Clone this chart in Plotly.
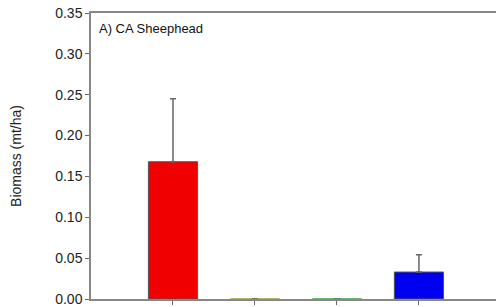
import plotly.graph_objects as go

categories = ["C1", "C2", "C3", "C4"]
biomass = [0.168, 0.0, 0.0, 0.033]
errors = [0.077, 0.0, 0.0, 0.021]
bar_colors = ["#f00000", "#a0a000", "#008000", "#0000f0"]
edge_colors = ["#555555", "#a09a40", "#40a040", "#555555"]
y_ticks = [0.00, 0.05, 0.10, 0.15, 0.20, 0.25, 0.30, 0.35]
y_tick_labels = ["0.00", "0.05", "0.10", "0.15", "0.20", "0.25", "0.30", "0.35"]

fig = go.Figure()
fig.add_trace(go.Bar(
    x=list(range(len(categories))),
    y=biomass,
    width=0.6,
    marker=dict(color=bar_colors, line=dict(color=edge_colors, width=1)),
    error_y=dict(type="data", array=errors, symmetric=False, arrayminus=[0]*4,
                 color="#666666", thickness=1.5, width=3),
))

fig.update_layout(
    width=496, height=307,
    margin=dict(l=91, r=0, t=13, b=8),
    paper_bgcolor="white", plot_bgcolor="white",
    showlegend=False,
    font=dict(family="Liberation Sans, Arial, sans-serif", color="#222222"),
    xaxis=dict(
        range=[-1, 3.94],
        tickmode="array", tickvals=list(range(len(categories))), ticktext=[""]*4,
        ticks="outside", ticklen=4, tickcolor="#666666", tickwidth=1,
        showline=True, linecolor="#888888", linewidth=1.5, mirror=True,
        showgrid=False, zeroline=False,
    ),
    yaxis=dict(
        range=[0, 0.35],
        tickmode="array", tickvals=y_ticks, ticktext=y_tick_labels,
        ticks="outside", ticklen=4, tickcolor="#666666", tickwidth=1,
        tickfont=dict(size=14),
        showline=True, linecolor="#888888", linewidth=1.5,
        showgrid=False, zeroline=False,
        title=dict(text="Biomass (mt/ha)", font=dict(size=14), standoff=30),
    ),
    annotations=[dict(
        text="A) CA Sheephead", xref="paper", yref="paper",
        x=0.014, y=0.945, xanchor="left", yanchor="middle",
        showarrow=False, font=dict(size=13, color="#111111"),
    )],
)

fig.write_html("out.html", config={"displayModeBar": False},
               post_script="document.body.style.margin='0';document.body.style.overflow='hidden';")
